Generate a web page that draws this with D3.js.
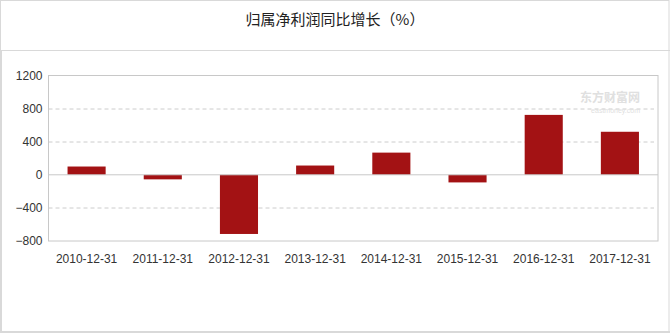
<!DOCTYPE html>
<html>
<head>
<meta charset="utf-8">
<script src="https://cdn.jsdelivr.net/npm/d3@7"></script>
<style>
  body { margin: 0; background: #fff; }
  svg text { font-family: "Liberation Sans", Arial, sans-serif; }
</style>
</head>
<body>
<div id="chart"></div>
<script>
// Data
var dates = ["2010-12-31", "2011-12-31", "2012-12-31", "2013-12-31", "2014-12-31", "2015-12-31", "2016-12-31", "2017-12-31"];
var growth = [100, -55, -715, 112, 268, -92, 724, 520];
var yTicks = [-800, -400, 0, 400, 800, 1200];

var w = 670, h = 333;
var margin = {top: 75.5, right: 12, bottom: 92, left: 48.5};
var width = w - margin.left - margin.right;
var height = h - margin.top - margin.bottom;

var svg = d3.select("#chart").append("svg")
  .attr("width", w)
  .attr("height", h);

// Outer frame and title divider
svg.append("rect")
  .attr("x", 0.5).attr("y", 0.5)
  .attr("width", w - 1.5).attr("height", h - 1.5)
  .attr("fill", "none").attr("stroke", "#d9d9d9");
svg.append("rect")
  .attr("x", 0).attr("y", 50)
  .attr("width", 2).attr("height", h - 50)
  .attr("fill", "#d9d9d9");
svg.append("rect")
  .attr("x", 0).attr("y", h - 2)
  .attr("width", w).attr("height", 2)
  .attr("fill", "#d9d9d9");
svg.append("line")
  .attr("x1", 0).attr("x2", w)
  .attr("y1", 50.5).attr("y2", 50.5)
  .attr("stroke", "#d9d9d9");

// Title
svg.append("text")
  .attr("x", 335).attr("y", 25)
  .attr("text-anchor", "middle")
  .style("font-family", "'Noto Sans CJK SC', sans-serif")
  .attr("font-size", "15px")
  .attr("fill", "#222")
  .text("归属净利润同比增长（%）");

var g = svg.append("g")
  .attr("transform", "translate(" + margin.left + "," + margin.top + ")");

var xScale = d3.scaleBand().domain(dates).range([0, width]).paddingInner(0.5).paddingOuter(0.25);
var yScale = d3.scaleLinear().domain([-800, 1200]).range([height, 0]);

// Grid lines
g.selectAll(".grid").data(yTicks.filter(function(d) { return d !== 0 && d !== 1200 && d !== -800; }))
  .enter().append("line")
  .attr("x1", 0).attr("x2", width - 4)
  .attr("y1", function(d) { return Math.round(yScale(d)) + 0.5; })
  .attr("y2", function(d) { return Math.round(yScale(d)) + 0.5; })
  .attr("stroke", "#ccc")
  .attr("stroke-dasharray", "4,3");

// Watermark
g.append("text")
  .attr("x", width - 18).attr("y", 26)
  .attr("text-anchor", "end")
  .style("font-family", "'Noto Sans CJK SC', sans-serif")
  .attr("font-size", "12px")
  .attr("font-weight", 700)
  .attr("fill", "#e0e0e0")
  .text("东方财富网");
g.append("text")
  .attr("x", width - 18).attr("y", 37)
  .attr("text-anchor", "end")
  .attr("font-size", "7px")
  .attr("fill", "#e0e0e0")
  .text("eastmoney.com");

// Bars
g.selectAll("rect.bar").data(growth).enter().append("rect")
  .attr("class", "bar")
  .attr("x", function(d, i) { return xScale(dates[i]); })
  .attr("y", function(d) { return yScale(Math.max(0, d)); })
  .attr("width", xScale.bandwidth())
  .attr("height", function(d) { return Math.abs(yScale(d) - yScale(0)); })
  .attr("fill", "#a31214");

// Zero line
g.append("line")
  .attr("x1", 0).attr("x2", width)
  .attr("y1", yScale(0)).attr("y2", yScale(0))
  .attr("stroke", "#c8c8c8");

// Plot frame
g.append("rect")
  .attr("width", width).attr("height", height)
  .attr("fill", "none").attr("stroke", "#c8c8c8");

// Y axis
var yAxis = g.append("g")
  .call(d3.axisLeft(yScale).tickValues(yTicks).tickFormat(d3.format("d")).tickSize(0).tickPadding(6));
yAxis.select(".domain").remove();
yAxis.selectAll("text")
  .attr("font-size", "12px")
  .attr("fill", "#333")
  .style("font-family", "'Liberation Sans', Arial, sans-serif");

// X axis
var xAxis = g.append("g")
  .attr("transform", "translate(0," + height + ")")
  .call(d3.axisBottom(xScale).tickSize(0).tickPadding(13));
xAxis.select(".domain").remove();
xAxis.selectAll("text")
  .attr("font-size", "12px")
  .attr("fill", "#333")
  .style("font-family", "'Liberation Sans', Arial, sans-serif");
</script>
</body>
</html>
